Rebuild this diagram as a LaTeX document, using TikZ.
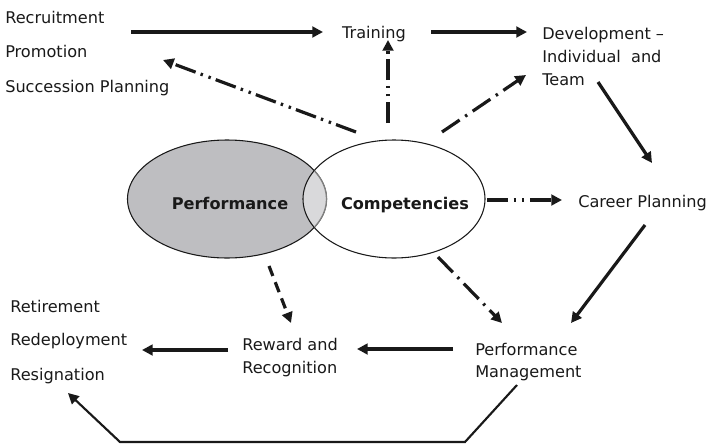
\documentclass[tikz,border=0pt]{standalone}
\usepackage{fontspec}
\setmainfont{DejaVu Sans}
\usetikzlibrary{arrows.meta,shapes.geometric}
\definecolor{perfgrey}{RGB}{190,190,193}
\definecolor{overlapgrey}{RGB}{217,217,219}
\definecolor{ink}{RGB}{25,25,25}
\begin{document}
\begin{tikzpicture}[x=0.75pt,y=-0.75pt,
  lbl/.style={inner sep=0pt, anchor=base west, text=ink, font=\fontsize{12.1}{14}\selectfont},
  bold/.style={inner sep=0pt, anchor=base, text=ink, font=\fontsize{12.1}{14}\selectfont\bfseries},
  conn/.style={line width=2.4pt, draw=ink, -{Triangle[length=8pt,width=8pt]}},
  ddot/.style={dash pattern=on 16pt off 4pt on 1.8pt off 4.5pt on 1.8pt off 4pt},
  dot1/.style={dash pattern=on 16pt off 5pt on 1.8pt off 5pt},
  dsh/.style={dash pattern=on 8pt off 5pt},
  oval/.style={ellipse, inner sep=0pt, draw=ink, line width=0.8pt}
]
\useasboundingbox (0,0) rectangle (714,443);

% ellipses
\node[oval, fill=perfgrey, minimum width=149.25pt, minimum height=88.5pt] (perf) at (227,199) {};
\begin{scope}
  \clip (227,199) ellipse [x radius=74.625pt, y radius=44.25pt];
  \fill[overlapgrey] (394,199) ellipse [x radius=68.25pt, y radius=44.25pt];
\end{scope}
\node[oval, minimum width=136.5pt, minimum height=88.5pt] (comp) at (394,199) {};
\begin{scope}
  \clip (394,199) ellipse [x radius=67.9pt, y radius=43.9pt];
  \draw[line width=1pt, draw=gray] (227,199) ellipse [x radius=74.625pt, y radius=44.25pt];
\end{scope}
\node[bold] (perflbl) at (230,209) {Performance};
\node[bold] (complbl) at (405,209) {Competencies};

% text nodes
\node[lbl] (recr) at (5,23) {Recruitment};
\node[lbl] (prom) at (5,57) {Promotion};
\node[lbl] (succ) at (5,92) {Succession Planning};
\node[lbl, anchor=base] (train) at (374,38) {Training};
\node[lbl] (dev1) at (542,39) {Development –};
\node[lbl] (dev2) at (542,62) {Individual\ \ and};
\node[lbl] (dev3) at (542,85) {Team};
\node[lbl] (career) at (578,207) {Career Planning};
\node[lbl] (reti) at (10,312) {Retirement};
\node[lbl] (rede) at (10,345) {Redeployment};
\node[lbl] (resi) at (10,380) {Resignation};
\node[lbl] (rew1) at (242,350) {Reward and};
\node[lbl] (rew2) at (242,373) {Recognition};
\node[lbl] (pm1) at (475,355) {Performance};
\node[lbl] (pm2) at (475,377) {Management};

% connector end points
\coordinate (a1s) at (131,32);  \coordinate (a1e) at (323,32);
\coordinate (a2s) at (431,32);  \coordinate (a2e) at (527,32);
\coordinate (a3s) at (388,123); \coordinate (a3e) at (388,40);
\coordinate (a4s) at (356,132); \coordinate (a4e) at (163,60);
\coordinate (a5s) at (442,132); \coordinate (a5e) at (526,75);
\coordinate (a6s) at (598,82);  \coordinate (a6e) at (652,163);
\coordinate (a7s) at (487,200); \coordinate (a7e) at (562,200);
\coordinate (a8s) at (645,225); \coordinate (a8e) at (571,323);
\coordinate (a9s) at (438,257); \coordinate (a9e) at (502,323);
\coordinate (a10s) at (269,266); \coordinate (a10e) at (291,323);
\coordinate (a11s) at (453,349); \coordinate (a11e) at (357,349);
\coordinate (a12s) at (228,350); \coordinate (a12e) at (142,350);
\coordinate (a13s) at (517,385); \coordinate (b1) at (465,442);
\coordinate (b2) at (120,442);   \coordinate (a13e) at (68,393);

% connectors
\draw[conn] (a1s) -- (a1e);
\draw[conn] (a2s) -- (a2e);
\draw[conn, ddot] (a3s) -- (a3e);
\draw[conn, ddot] (a4s) -- (a4e);
\draw[conn, dot1] (a5s) -- (a5e);
\draw[conn] (a6s) -- (a6e);
\draw[conn, ddot] (a7s) -- (a7e);
\draw[conn] (a8s) -- (a8e);
\draw[conn, dot1] (a9s) -- (a9e);
\draw[conn, dsh] (a10s) -- (a10e);
\draw[conn] (a11s) -- (a11e);
\draw[conn] (a12s) -- (a12e);
\draw[line width=1.6pt, draw=ink, -{Triangle[length=8pt,width=8pt]}, line join=miter] (a13s) -- (b1) -- (b2) -- (a13e);
\end{tikzpicture}
\end{document}
